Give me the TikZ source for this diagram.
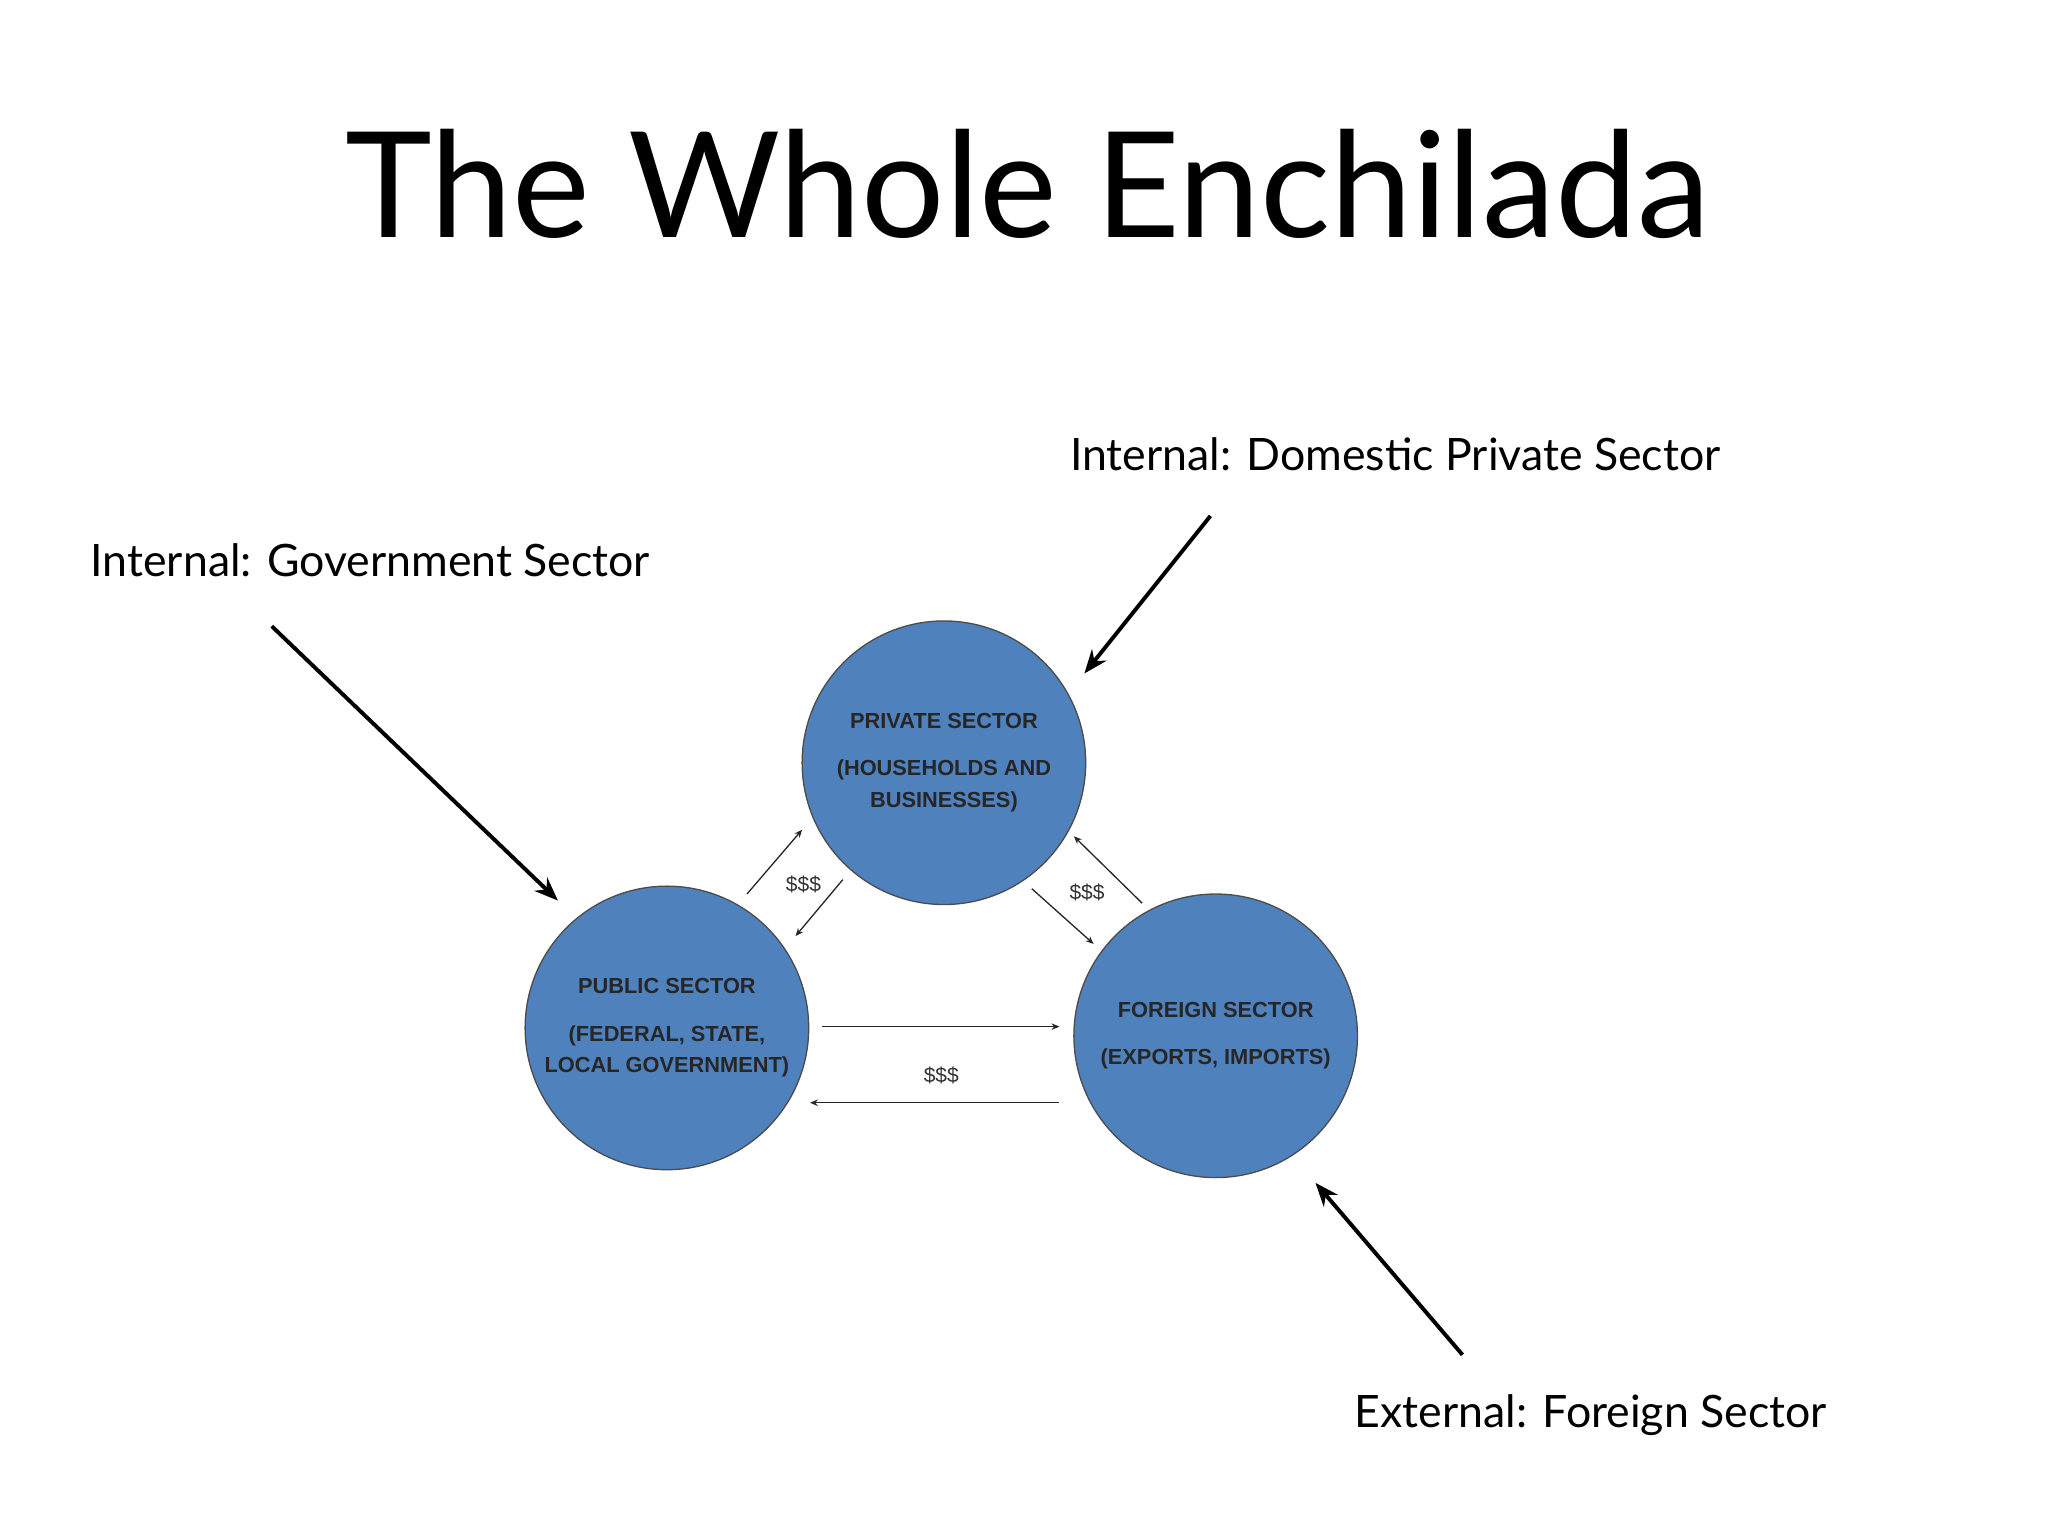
\documentclass[tikz,border=0pt]{standalone}
\usepackage{fontspec}
\setmainfont{Lato}
\newfontfamily\inner{Liberation Sans}
\usetikzlibrary{arrows.meta}
\definecolor{sect}{HTML}{4F81BD}
\tikzset{
 sector/.style={circle,fill=sect,draw=black!70,line width=0.5pt,minimum size=108pt,inner sep=0pt,align=center,font=\inner\bfseries\fontsize{8.3}{12}\selectfont,text=black!85},
 bigarrow/.style={-{Stealth[length=9pt,width=7pt]},line width=1.5pt},
 flow/.style={-{Stealth[length=3pt,width=2.5pt]},line width=0.5pt,black!85},
 lbl/.style={font=\fontsize{17}{20}\selectfont,anchor=west},
 money/.style={font=\inner\fontsize{8}{9}\selectfont,text=black!80}
}
\begin{document}
\begin{tikzpicture}[x=0.5pt,y=-0.5pt]
\useasboundingbox (0,0) rectangle (1560,1170);
\node (title) at (783,140) {\fontsize{56}{60}\selectfont The Whole Enchilada};
\node[lbl] (gov) at (62,427) {Internal: Government Sector};
\node[lbl] (dom) at (808,346) {Internal: Domestic Private Sector};
\node[lbl] (ext) at (1025,1078) {External: Foreign Sector};
\node[sector] (priv) at (719,581) {PRIVATE SECTOR\\[6pt](HOUSEHOLDS AND\\BUSINESSES)};
\node[sector] (pub) at (508,783) {PUBLIC SECTOR\\[6pt](FEDERAL, STATE,\\LOCAL GOVERNMENT)};
\node[sector] (for) at (926,789) {FOREIGN SECTOR\\[6pt](EXPORTS, IMPORTS)};
\coordinate (g0) at (207,477); \coordinate (g1) at (425,686);
\coordinate (d0) at (922,393); \coordinate (d1) at (826,513);
\coordinate (e0) at (1114,1032); \coordinate (e1) at (1002,901);
\draw[bigarrow] (g0) -- (g1);
\draw[bigarrow] (d0) -- (d1);
\draw[bigarrow] (e0) -- (e1);
\coordinate (a0) at (569,681); \coordinate (a1) at (611,632);
\coordinate (b0) at (642,670); \coordinate (b1) at (606,713);
\coordinate (c0) at (786,677); \coordinate (c1) at (833,719);
\coordinate (f0) at (870,688); \coordinate (f1) at (818,637);
\coordinate (h0) at (626,782); \coordinate (h1) at (807,782);
\coordinate (k0) at (807,840); \coordinate (k1) at (617,840);
\draw[flow] (a0) -- (a1);
\draw[flow] (b0) -- (b1);
\draw[flow] (c0) -- (c1);
\draw[flow] (f0) -- (f1);
\draw[flow] (h0) -- (h1);
\draw[flow] (k0) -- (k1);
\node[money] (m1) at (612,674) {\$\$\$};
\node[money] (m2) at (828,680) {\$\$\$};
\node[money] (m3) at (717,819) {\$\$\$};
\end{tikzpicture}
\end{document}
